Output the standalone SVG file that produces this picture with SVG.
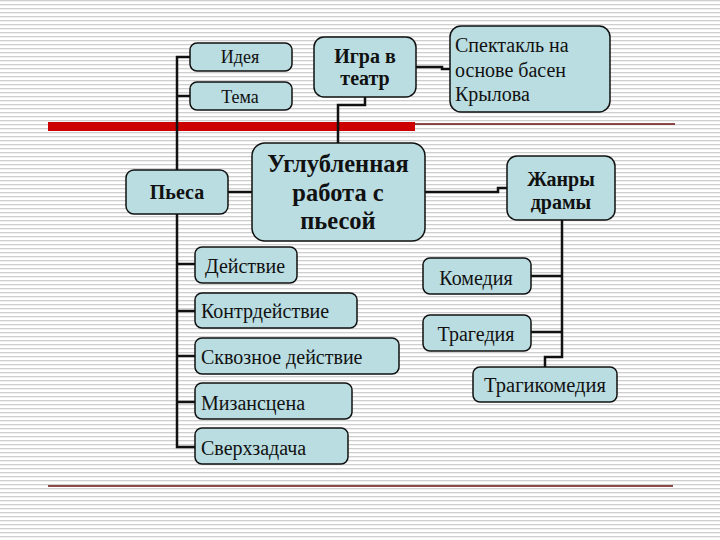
<svg xmlns="http://www.w3.org/2000/svg" width="720" height="540" viewBox="0 0 720 540">
<defs>
<pattern id="stripes" width="8" height="4" patternUnits="userSpaceOnUse">
<rect width="8" height="4" fill="#ffffff"/>
<rect width="8" height="1.3" fill="#cfcfcf"/>
</pattern>
<style>
.box{fill:#badde1;stroke:#111;stroke-width:1.5}
text{font-family:"Liberation Serif","DejaVu Serif",serif;fill:#111}
.b{font-weight:bold}
.c{text-anchor:middle}
.ln{fill:none;stroke:#111;stroke-width:2.5}
</style>
</defs>
<rect width="720" height="540" fill="url(#stripes)"/>
<g id="decor">
<rect x="48" y="122" width="367" height="9" fill="#cc0000"/>
<line x1="415" y1="124" x2="675" y2="124" stroke="#6b1010" stroke-width="1.5"/>
<line x1="48" y1="486" x2="673" y2="486" stroke="#6b1010" stroke-width="1.5"/>
</g>
<g id="connectors">
<path class="ln" d="M190 57 H177 V447 H195"/>
<path class="ln" d="M177 96 H190"/>
<path class="ln" d="M177 264 H195 M177 311 H195 M177 356 H195 M177 402 H195"/>
<path class="ln" d="M228 192 H252"/>
<path class="ln" d="M365 97 V105 H338 V143"/>
<path class="ln" d="M416 67 H442 V69 H450"/>
<path class="ln" d="M425 192 H498 V188 H507"/>
<path class="ln" d="M562 220 V357 H545 V367"/>
<path class="ln" d="M531 276 H562 M531 332 H562"/>
</g>
<g id="idea"><rect class="box" x="190" y="43" width="102" height="28" rx="7"/><text class="c" x="240" y="63" font-size="18">Идея</text></g>
<g id="tema"><rect class="box" x="190" y="82" width="102" height="28" rx="7"/><text class="c" x="240" y="103" font-size="18">Тема</text></g>
<g id="igra"><rect class="box" x="314" y="37" width="102" height="60" rx="10"/><text class="b c" x="365" y="63" font-size="20">Игра в</text><text class="b c" x="365" y="85" font-size="20">театр</text></g>
<g id="spektakl"><rect class="box" x="450" y="26" width="160" height="86" rx="11"/><text x="455" y="52" font-size="20">Спектакль на</text><text x="455" y="77" font-size="20">основе басен</text><text x="455" y="101" font-size="20">Крылова</text></g>
<g id="pesa"><rect class="box" x="126" y="170" width="102" height="44" rx="8"/><text class="b c" x="177" y="199" font-size="20">Пьеса</text></g>
<g id="uglub"><rect class="box" x="252" y="143" width="173" height="98" rx="13"/><text class="b c" x="338" y="172" font-size="24.5">Углубленная</text><text class="b c" x="338" y="201" font-size="24.5">работа с</text><text class="b c" x="338" y="229" font-size="24.5">пьесой</text></g>
<g id="zhanry"><rect class="box" x="507" y="156" width="108" height="64" rx="10"/><text class="b c" x="561" y="186" font-size="20">Жанры</text><text class="b c" x="561" y="209" font-size="20">драмы</text></g>
<g id="deistvie"><rect class="box" x="195" y="247" width="102" height="36" rx="7"/><text x="205" y="273" font-size="20">Действие</text></g>
<g id="kontr"><rect class="box" x="195" y="293" width="162" height="35" rx="7"/><text x="201" y="318" font-size="20">Контрдействие</text></g>
<g id="skvoz"><rect class="box" x="195" y="338" width="204" height="36" rx="7"/><text x="201" y="364" font-size="20">Сквозное действие</text></g>
<g id="mizan"><rect class="box" x="195" y="383" width="157" height="36" rx="7"/><text x="201" y="410" font-size="20">Мизансцена</text></g>
<g id="sverh"><rect class="box" x="195" y="428" width="153" height="36" rx="7"/><text x="201" y="455" font-size="20">Сверхзадача</text></g>
<g id="komedia"><rect class="box" x="423" y="258" width="108" height="36" rx="7"/><text class="c" x="476" y="285" font-size="20">Комедия</text></g>
<g id="tragedia"><rect class="box" x="423" y="315" width="108" height="36" rx="7"/><text class="c" x="476" y="341" font-size="20">Трагедия</text></g>
<g id="tragikom"><rect class="box" x="473" y="367" width="144" height="35" rx="7"/><text class="c" x="545" y="392" font-size="20.5">Трагикомедия</text></g>
</svg>
